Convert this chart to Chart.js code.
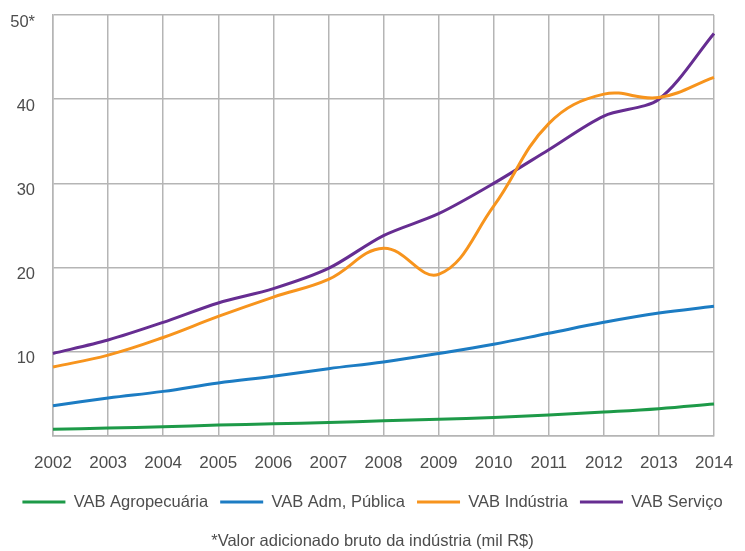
<!DOCTYPE html>
<html>
<head>
<meta charset="utf-8">
<script src="https://cdn.jsdelivr.net/npm/chart.js@4/dist/chart.umd.min.js"></script>
<style>
  html, body { margin: 0; padding: 0; background: #fff; }
  #wrap { width: 745px; height: 551px; }
</style>
</head>
<body>
<div id="wrap"><canvas id="vab-chart" width="745" height="551"></canvas></div>
<script>
const anos = ["2002", "2003", "2004", "2005", "2006", "2007", "2008",
  "2009", "2010", "2011", "2012", "2013", "2014"];

const agropecuaria = [0.8, 0.95, 1.1, 1.3, 1.45, 1.6, 1.8, 2.0, 2.2, 2.5, 2.85, 3.25, 3.8];
const admPublica = [3.6, 4.5, 5.3, 6.3, 7.1, 8.0, 8.8, 9.8, 10.9, 12.2, 13.5, 14.6, 15.4];
const industria = [8.2, 9.6, 11.7, 14.2, 16.5, 18.6, 22.3, 19.2, 27.3, 37.1, 40.6, 40.2, 42.6];
const servico = [9.8, 11.4, 13.5, 15.8, 17.5, 19.9, 23.8, 26.4, 30.0, 34.0, 38.0, 40.0, 47.8];

const nomes = ["VAB Agropecuária", "VAB Adm, Pública", "VAB Indústria", "VAB Serviço"];
const cores = ["#1d9a48", "#1c7cc3", "#f7941d", "#662d91"];
const nota = "*Valor adicionado bruto da indústria (mil R$)";

const fonte = "'Liberation Sans', Arial, sans-serif";
const corTexto = "#4d4d4d";
const corGrade = "#b5b5b5";

function serie(i, valores, tensao) {
  return {
    label: nomes[i],
    data: valores,
    borderColor: cores[i],
    backgroundColor: cores[i],
    borderWidth: 3,
    pointRadius: 0,
    tension: tensao,
    fill: false
  };
}

new Chart(document.getElementById("vab-chart"), {
  type: "line",
  data: {
    labels: anos,
    datasets: [
      serie(0, agropecuaria, 0.4),
      serie(1, admPublica, 0.4),
      serie(2, industria, 0.4),
      serie(3, servico, 0.3)
    ]
  },
  options: {
    responsive: false,
    animation: false,
    layout: { padding: { top: 15, right: 0, bottom: 1.75, left: 0 } },
    scales: {
      x: {
        grid: { color: corGrade, lineWidth: 1.5, drawTicks: false },
        border: { color: corGrade, width: 1.5 },
        ticks: { color: corTexto, font: { family: fonte, size: 17 }, padding: 17, maxRotation: 0 },
        afterFit: function (scale) {
          scale.height = 45.75;
          scale.paddingLeft = 0;
          scale.paddingRight = 31;
        }
      },
      y: {
        min: 0,
        max: 50,
        grid: { color: corGrade, lineWidth: 1.5, drawTicks: false },
        border: { color: corGrade, width: 1.5 },
        ticks: {
          stepSize: 10,
          color: corTexto,
          font: { family: fonte, size: 16.5 },
          padding: 18,
          labelOffset: 7,
          callback: function (v) {
            if (v === 0) return "";
            if (v === 50) return "50*";
            return v;
          }
        },
        afterFit: function (scale) {
          scale.width = 53;
          scale.paddingTop = 0;
          scale.paddingBottom = 0;
        }
      }
    },
    plugins: {
      legend: {
        position: "bottom",
        labels: {
          color: corTexto,
          font: { family: fonte, size: 16.5 },
          boxWidth: 43,
          boxHeight: 3,
          padding: 12,
          generateLabels: function (chart) {
            return chart.data.datasets.map((ds, i) => ({
              text: ds.label,
              fillStyle: ds.borderColor,
              strokeStyle: ds.borderColor,
              lineWidth: 0,
              fontColor: corTexto,
              datasetIndex: i
            }));
          }
        }
      },
      title: {
        display: true,
        position: "bottom",
        text: nota,
        color: corTexto,
        font: { family: fonte, size: 16.5, weight: "normal", lineHeight: 1 },
        padding: { top: 12.5, bottom: 0 }
      },
      tooltip: { enabled: false }
    }
  }
});
</script>
</body>
</html>
